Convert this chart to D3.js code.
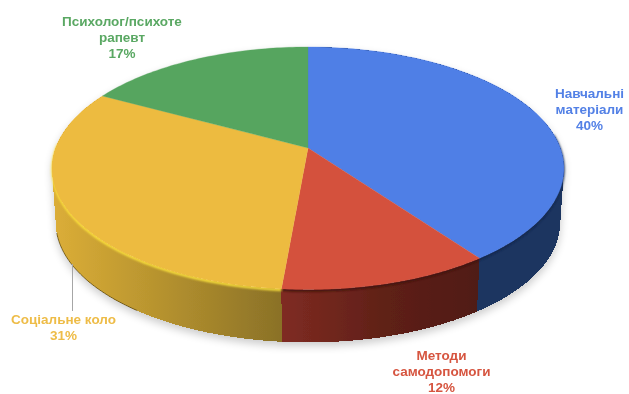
<!DOCTYPE html>
<html>
<head>
<meta charset="utf-8">
<script src="https://cdn.jsdelivr.net/npm/d3@7"></script>
<style>
html,body{margin:0;padding:0;background:#fff;}
svg{display:block;}
text{font-family:"Liberation Sans",Arial,sans-serif;font-weight:700;font-size:13.5px;text-anchor:middle;}
</style>
</head>
<body>
<svg id="c" width="629" height="394"></svg>
<script>
const categories = ["Навчальні матеріали","Методи самодопомоги","Соціальне коло","Психолог/психотерапевт"];
const values = [40, 11.4, 31.5, 17.1];
const percentLabels = ["40%","12%","31%","17%"];
const labelLines = [["Навчальні","матеріали"],["Методи","самодопомоги"],["Соціальне коло"],["Психолог/психоте","рапевт"]];
const topColors = ["#4f7fe6","#d4513d","#edbb3f","#56a55e"];
const labelColors = ["#5381e6","#d65540","#eebc47","#5aa863"];
const wallStops = [
  [["0","#1f3560"],["1","#1f3560"]],
  [["0","#7f2b22"],["0.55","#5e2017"],["1","#501b13"]],
  [["0","#dcae38"],["0.35","#c09a30"],["0.75","#9f812b"],["1","#8a7127"]],
  [["0","#2f6b39"],["1","#2f6b39"]]
];
const wallRanges = [[477,565],[282,477],[52,282],[100,308]];
const labelPos = [[589.5,98],[441.5,360],[63.5,324],[122,26]];
const rimCol=["#14264a","#3d120c","#ffe53c"];
const rimSpan=[[1.45,2.513],[2.513,3.23],[3.23,4.75]];

const W=629,H=394,cx=308,cy=148,A=252.4,B=117.9,k=0.167,depth=55;
const svg=d3.select("#c");
const defs=svg.append("defs");
const f=defs.append("filter").attr("id","sh").attr("x","-10%").attr("y","-10%").attr("width","120%").attr("height","125%");
f.append("feGaussianBlur").attr("stdDeviation",4);
const f2=defs.append("filter").attr("id","rim").attr("x","-5%").attr("y","-5%").attr("width","110%").attr("height","110%");
f2.append("feGaussianBlur").attr("stdDeviation",0.8);
const f3=defs.append("filter").attr("id","soft").attr("x","-5%").attr("y","-5%").attr("width","110%").attr("height","110%");
f3.append("feGaussianBlur").attr("stdDeviation",0.45);

const pie=d3.pie().sort(null).value(d=>d);
const arcs=pie(values);
const proj=(a,dy=0,s=1)=>{
  const x=Math.sin(a),y=-Math.cos(a),w=1-k*y;
  return [cx+s*A*x/w, cy+s*B*y/w+dy];
};
const sample=(a0,a1,dy=0,s=1)=>d3.range(0,61).map(i=>proj(a0+(a1-a0)*i/60,dy,s));
const line=d3.line();

values.forEach((v,i)=>{
  const g=defs.append("linearGradient").attr("id","w"+i).attr("gradientUnits","userSpaceOnUse")
    .attr("x1",wallRanges[i][0]).attr("x2",wallRanges[i][1]).attr("y1",0).attr("y2",0);
  wallStops[i].forEach(s=>g.append("stop").attr("offset",s[0]).attr("stop-color",s[1]));
});

// the side wall is a band of separate small quads, so its outline is the
// straight tangent between the upper and lower rim at the left and right extremes
const wallQuads=d=>{
  const t=sample(d.startAngle,d.endAngle,0,1), b=sample(d.startAngle,d.endAngle,depth,0.985);
  return d3.range(t.length-1).map(i=>line([t[i],t[i+1],b[i+1],b[i]])+"Z");
};

// soft shadow
const shadow=svg.append("g").attr("transform","translate(0,4)").attr("opacity",0.2).attr("filter","url(#sh)");
shadow.selectAll("path").data(arcs.flatMap(wallQuads)).join("path").attr("d",d=>d).attr("fill","#000").attr("shape-rendering","crispEdges");

// side walls
const wallG=svg.append("g").attr("filter","url(#soft)");
wallG.selectAll("g").data(arcs.slice(0,3)).join("g").each(function(d,i){
  d3.select(this).selectAll("path").data(wallQuads(d)).join("path")
    .attr("d",q=>q).attr("fill",`url(#w${i})`).attr("shape-rendering","crispEdges");
});

// bottom dark edge of the yellow wall
svg.append("path").attr("d",line(sample(arcs[2].startAngle+0.55,arcs[2].endAngle-0.75,depth-0.3,0.985)))
  .attr("fill","none").attr("stroke","#5f4c18").attr("stroke-width",0.8);

// rims under the top surface edge (front part only)
const rimG=svg.append("g").attr("filter","url(#rim)");
rimG.selectAll("path").data(rimSpan).join("path")
  .attr("d",d=>line(sample(d[0],d[1],1.2,0.997)))
  .attr("fill","none").attr("stroke",(d,i)=>rimCol[i]).attr("stroke-width",2.6);

// top surface
const topG=svg.append("g").attr("filter","url(#soft)");
topG.selectAll("path").data(arcs).join("path")
  .attr("d",d=>line([[cx,cy]].concat(sample(d.startAngle,d.endAngle)))+"Z")
  .attr("fill",(d,i)=>topColors[i]).attr("stroke",(d,i)=>topColors[i]).attr("stroke-width",0.3);

// leader line
const leader=d3.path();
leader.moveTo(72.5,264);leader.lineTo(72.5,311);
svg.append("path").attr("d",leader.toString()).attr("stroke","#a6a6a6").attr("stroke-width",1).attr("fill","none");

// labels
const lab=svg.append("g").attr("filter","url(#soft)");
categories.forEach((c,i)=>{
  const lines=labelLines[i].concat([percentLabels[i]]);
  lab.selectAll(null).data(lines).join("text")
    .attr("x",labelPos[i][0]).attr("y",(d,j)=>labelPos[i][1]+j*16)
    .attr("fill",labelColors[i]).text(d=>d);
});
</script>
</body>
</html>
